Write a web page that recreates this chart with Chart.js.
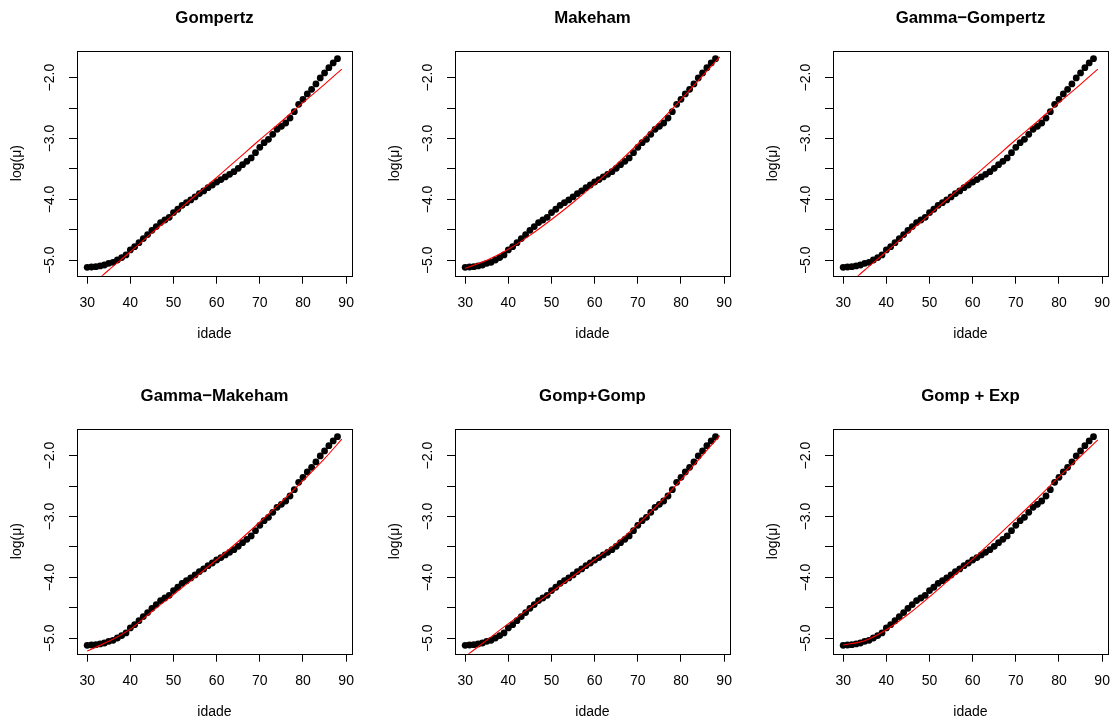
<!DOCTYPE html>
<html>
<head>
<meta charset="utf-8">
<script src="https://cdn.jsdelivr.net/npm/chart.js@4/dist/chart.umd.min.js"></script>
<style>
  html, body { margin: 0; padding: 0; width: 1111px; height: 720px; overflow: hidden; background: #fff; }
  canvas { position: absolute; }
</style>
</head>
<body>
<canvas id="c0" width="378" height="378" style="left:0px;top:0px"></canvas>
<canvas id="c1" width="378" height="378" style="left:378px;top:0px"></canvas>
<canvas id="c2" width="378" height="378" style="left:756px;top:0px"></canvas>
<canvas id="c3" width="378" height="378" style="left:0px;top:378px"></canvas>
<canvas id="c4" width="378" height="378" style="left:378px;top:378px"></canvas>
<canvas id="c5" width="378" height="378" style="left:756px;top:378px"></canvas>
<script>
// ---- data ----
const ages = [30,31,32,33,34,35,36,37,38,39,40,41,42,43,44,45,46,47,48,49,50,51,52,53,54,55,56,57,58,59,60,61,62,63,64,65,66,67,68,69,70,71,72,73,74,75,76,77,78,79,80,81,82,83,84,85,86,87,88];
const logMu = [-5.115,-5.110,-5.104,-5.093,-5.077,-5.050,-5.033,-4.995,-4.956,-4.912,
               -4.830,-4.776,-4.710,-4.644,-4.578,-4.507,-4.447,-4.381,-4.338,-4.294,
               -4.217,-4.162,-4.097,-4.053,-4.009,-3.960,-3.905,-3.861,-3.807,-3.763,
               -3.714,-3.675,-3.631,-3.588,-3.544,-3.489,-3.429,-3.374,-3.319,-3.232,
               -3.144,-3.068,-3.013,-2.931,-2.849,-2.800,-2.745,-2.663,-2.559,-2.438,
               -2.356,-2.268,-2.192,-2.104,-2.005,-1.923,-1.836,-1.759,-1.688];
const fitAges = [30,35,40,45,50,55,60,65,70,75,80,85,89];
const gompertzFit      = [-5.47,-5.16,-4.86,-4.55,-4.25,-3.94,-3.64,-3.33,-3.02,-2.72,-2.41,-2.11,-1.86];
const makehamFit       = [-5.13,-5.00,-4.82,-4.59,-4.33,-4.05,-3.75,-3.43,-3.09,-2.73,-2.36,-1.97,-1.66];
const gammaGompertzFit = [-5.47,-5.16,-4.86,-4.55,-4.25,-3.94,-3.64,-3.33,-3.02,-2.72,-2.41,-2.11,-1.86];
const gammaMakehamFit  = [-5.21,-5.05,-4.85,-4.56,-4.28,-4.00,-3.71,-3.41,-3.09,-2.76,-2.41,-2.05,-1.73];
const gompGompFit      = [-5.30,-5.03,-4.76,-4.50,-4.24,-3.98,-3.71,-3.44,-3.13,-2.78,-2.40,-1.99,-1.67];
const gompExpFit       = [-5.11,-5.04,-4.86,-4.61,-4.32,-4.01,-3.70,-3.37,-3.04,-2.70,-2.35,-2.01,-1.74];
const panelTitles = ['Gompertz','Makeham','Gamma\u2212Gompertz','Gamma\u2212Makeham','Gomp+Gomp','Gomp + Exp'];
const panelFits = [gompertzFit, makehamFit, gammaGompertzFit, gammaMakehamFit, gompGompFit, gompExpFit];
const xTicks = [30,40,50,60,70,80,90];
const xTickLabels = ['30','40','50','60','70','80','90'];
const yTicks = [-5.0,-4.5,-4.0,-3.5,-3.0,-2.5,-2.0];
const yTickLabels = ['\u22125.0','','\u22124.0','','\u22123.0','','\u22122.0'];
const xLabel = 'idade';
const yLabel = 'log(\u03bc)';

// ---- rendering ----
const FONT = "'Liberation Sans', Arial, Helvetica, sans-serif";
Chart.defaults.color = '#000';
Chart.defaults.font.family = FONT;

const boxPlugin = {
  id: 'rbox',
  afterDraw(chart) {
    const a = chart.chartArea, ctx = chart.ctx;
    ctx.save();
    ctx.strokeStyle = '#000';
    ctx.lineWidth = 1;
    const l = Math.round(a.left) + 0.5, t = Math.round(a.top) + 0.5;
    const r = Math.round(a.right) + 0.5, b = Math.round(a.bottom) + 0.5;
    ctx.strokeRect(l, t, r - l, b - t);
    ctx.restore();
  }
};

panelTitles.forEach((title, k) => {
  const fit = panelFits[k];
  new Chart(document.getElementById('c' + k), {
    type: 'scatter',
    data: {
      datasets: [
        {
          data: fitAges.map((a, i) => ({x: a, y: fit[i]})),
          showLine: true,
          borderColor: '#ff0000',
          borderWidth: 1.1,
          pointRadius: 0,
          cubicInterpolationMode: 'monotone',
          order: 0
        },
        {
          data: ages.map((a, i) => ({x: a, y: logMu[i]})),
          showLine: false,
          pointRadius: 3.4,
          pointBackgroundColor: '#000',
          pointBorderColor: '#000',
          pointBorderWidth: 0,
          order: 1
        }
      ]
    },
    options: {
      responsive: false,
      animation: false,
      events: [],
      layout: { padding: { left: 0, right: 26, top: 0, bottom: 0 } },
      plugins: {
        legend: { display: false },
        tooltip: { enabled: false },
        title: {
          display: true, text: title, fullSize: false, color: '#000',
          font: { family: FONT, size: 16.8, weight: 'bold' },
          padding: { top: 8.2, bottom: 22.3 }
        }
      },
      scales: {
        x: {
          type: 'linear', min: 27.64, max: 91.36,
          afterBuildTicks: s => { s.ticks = xTicks.map(v => ({value: v})); },
          afterFit: s => { s.height = 102.3; },
          grid: { drawOnChartArea: false, drawTicks: true, tickLength: 8, color: '#000', lineWidth: 1 },
          border: { display: false },
          ticks: { autoSkip: false, maxRotation: 0, padding: 11.5, color: '#000',
                   font: { family: FONT, size: 14 },
                   callback: (v, i) => xTickLabels[i] },
          title: { display: true, text: xLabel, color: '#000', font: { family: FONT, size: 14 },
                   padding: { top: 0, bottom: 35.5 } }
        },
        y: {
          type: 'linear', min: -5.253, max: -1.557,
          afterBuildTicks: s => { s.ticks = yTicks.map(v => ({value: v})); },
          afterFit: s => { s.width = 77; },
          grid: { drawOnChartArea: false, drawTicks: true, tickLength: 8, color: '#000', lineWidth: 1 },
          border: { display: false },
          ticks: { autoSkip: false, minRotation: 90, maxRotation: 90, crossAlign: 'center', padding: 5,
                   color: '#000', font: { family: FONT, size: 14 },
                   callback: (v, i) => yTickLabels[i] },
          title: { display: true, text: yLabel, color: '#000', font: { family: FONT, size: 14 },
                   padding: { top: 8.3, bottom: 0 } }
        }
      }
    },
    plugins: [boxPlugin]
  });
});
</script>
</body>
</html>
